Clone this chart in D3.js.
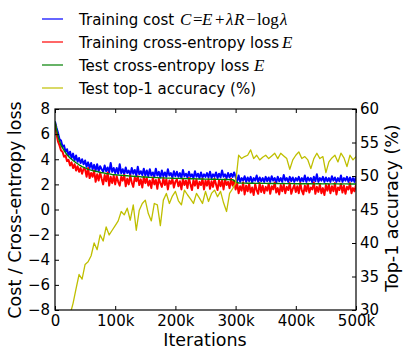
<!DOCTYPE html>
<html>
<head>
<meta charset="utf-8">
<script src="https://cdn.jsdelivr.net/npm/d3@7"></script>
<style>
  body { margin: 0; background: #fff; }
  text { font-family: "DejaVu Sans", sans-serif; }
</style>
</head>
<body>
<svg id="chart" width="407" height="358"></svg>
<script>
// sampling of the logged series
const trainStep = 2500;
const testStep = 5000;

// training cost C = E + lambda*R - log(lambda), every 2.5k iterations
const costTrain = [
  7.0, 6.5, 6.1, 5.6, 5.5, 5.0, 5.1, 4.6, 4.8, 4.3, 4.6, 4.1, 4.45, 3.9, 4.3, 3.8, 4.1, 3.7, 4.0, 3.6,
  3.9, 3.4, 3.75, 3.3, 3.7, 3.2, 3.55, 3.1, 3.6, 3.05, 3.45, 3.2, 3.0, 3.5, 3.05, 3.35, 2.95, 3.7, 3.0, 3.3, 2.9,
  3.3, 2.85, 3.6, 2.9, 3.2, 2.8, 3.35, 2.9, 3.1, 2.75, 3.3, 2.85, 3.15, 2.7, 3.4, 2.8, 3.05, 2.75, 3.25, 2.7,
  3.1, 2.65, 3.2, 2.7, 2.95, 2.6, 3.25, 2.7, 3.0, 2.55, 3.1, 2.65, 2.95, 2.6, 3.2, 2.7, 2.9, 2.55, 3.05, 2.65,
  3.0, 2.6, 2.9, 2.5, 3.15, 2.65, 2.85, 2.55, 3.0, 2.6, 2.8, 2.5, 3.05, 2.6, 2.85, 2.5, 2.95, 2.55, 2.8, 2.6,
  2.9, 2.55, 3.0, 2.5, 2.8, 2.6, 2.95, 2.5, 2.85, 2.55, 3.1, 2.6, 2.8, 2.5, 2.9, 2.55, 2.85, 2.6, 2.95,
  2.6, 2.25, 2.7, 2.2, 2.5, 2.3, 2.65, 2.2, 2.55, 2.25, 2.6, 2.15, 2.5, 2.3, 2.7, 2.2, 2.55, 2.25, 2.5, 2.2, 2.6,
  2.25, 2.55, 2.2, 2.65, 2.3, 2.5, 2.15, 2.6, 2.25, 2.5, 2.2, 2.75, 2.3, 2.5, 2.2, 2.6, 2.25, 2.55, 2.2, 2.5,
  2.3, 2.6, 2.2, 2.5, 2.25, 2.7, 2.2, 2.55, 2.3, 2.5, 2.15, 2.6, 2.25, 2.8, 2.2, 2.5, 2.3, 2.6, 2.2, 2.55,
  2.25, 2.5, 2.2, 2.65, 2.3, 2.55, 2.2, 2.5, 2.25, 2.7, 2.2, 2.5, 2.3, 2.6, 2.2, 2.55, 2.25, 2.5, 2.2, 2.6
];

// training cross-entropy loss E, every 2.5k iterations
const ceTrain = [
  6.9, 6.0, 5.4, 5.1, 4.7, 4.6, 4.2, 4.3, 3.85, 3.95, 3.5, 3.75, 3.3, 3.6, 3.1, 3.45, 3.0, 3.3, 2.85, 3.25,
  3.2, 2.6, 3.3, 2.5, 2.9, 2.6, 3.1, 2.2, 2.8, 2.3, 2.95, 2.45, 2.0, 2.75, 2.25, 2.95, 1.9, 2.6, 2.1, 2.7, 2.0,
  2.65, 2.2, 1.9, 2.6, 2.3, 2.75, 1.85, 2.45, 2.0, 2.7, 2.15, 1.8, 2.55, 2.25, 2.65, 1.95, 2.4, 1.75, 2.6, 2.1,
  2.5, 1.9, 2.3, 1.7, 2.55, 2.0, 2.35, 1.65, 2.45, 2.1, 1.8, 2.5, 1.95, 2.4, 1.6, 2.3, 2.05, 2.45, 1.75, 2.2,
  2.4, 1.85, 2.25, 1.6, 2.45, 1.95, 2.3, 1.7, 2.5, 2.0, 1.55, 2.35, 1.9, 2.4, 1.7, 2.2, 1.95, 2.45, 1.6, 2.3,
  1.9, 2.4, 1.65, 2.25, 1.8, 2.45, 2.0, 1.55, 2.35, 1.85, 2.3, 1.6, 2.4, 1.95, 2.2, 1.7, 2.45, 1.9, 2.3,
  1.6, 2.1, 1.3, 1.85, 1.5, 2.15, 1.2, 1.9, 1.45, 2.05, 1.35, 1.75, 1.15, 2.0, 1.55, 1.25, 2.1, 1.4, 1.9, 1.3, 1.8,
  1.5, 2.05, 1.25, 1.85, 1.6, 2.15, 1.35, 1.7, 1.2, 1.95, 1.45, 2.0, 1.3, 1.8, 1.55, 2.1, 1.25, 1.65, 1.95, 1.4,
  1.85, 1.3, 2.1, 1.5, 1.2, 1.9, 1.45, 2.05, 1.35, 1.75, 1.6, 2.15, 1.25, 1.8, 1.4, 2.0, 1.3, 1.7, 1.15, 1.95,
  1.5, 2.0, 1.3, 1.85, 1.45, 2.1, 1.2, 1.75, 1.55, 2.05, 1.35, 1.9, 1.25, 1.8, 1.6, 2.1, 1.3, 1.7, 1.45, 1.95
];

// test cross-entropy loss E, every 5k iterations
const ceTest = [
  7.0, 5.8, 5.1, 4.7, 4.35, 4.1, 3.9, 3.72, 3.56, 3.42, 3.31, 3.2, 3.13, 3.06, 3.01, 2.95, 2.92, 2.87, 2.84, 2.79, 2.77,
  2.74, 2.73, 2.7, 2.69, 2.66, 2.65, 2.63, 2.62, 2.59, 2.59, 2.57, 2.56, 2.54, 2.54, 2.52, 2.52, 2.5, 2.5, 2.49, 2.48,
  2.48, 2.47, 2.48, 2.46, 2.45, 2.46, 2.44, 2.43, 2.44, 2.42, 2.42, 2.41, 2.42, 2.4, 2.4, 2.39, 2.4, 2.38, 2.38, 2.2,
  2.11, 2.1, 2.1, 2.09, 2.1, 2.09, 2.08, 2.09, 2.08, 2.08, 2.07, 2.08, 2.07, 2.07, 2.06, 2.07, 2.06, 2.06, 2.06, 2.05,
  2.06, 2.05, 2.05, 2.06, 2.05, 2.04, 2.05, 2.05, 2.04, 2.05, 2.04, 2.04, 2.05, 2.04, 2.03, 2.04, 2.04, 2.03, 2.04, 2.03
];

// test top-1 accuracy (%), every 5k iterations
const top1Test = [
  0.1, 8.0, 15.5, 21.0, 25.5, 29.3, 31.0, 33.2, 35.3, 34.6, 36.8, 37.2, 38.1, 40.0, 39.0, 41.2, 40.3, 42.4, 41.2, 41.9,
  42.6, 43.3, 44.7, 44.2, 45.2, 43.4, 45.7, 41.9, 44.9, 45.9, 46.4, 44.4, 43.3, 45.9, 45.7, 42.6, 46.4, 47.4, 45.9, 47.0,
  47.7, 46.3, 45.7, 47.9, 47.2, 46.6, 45.9, 47.4, 46.7, 45.9, 47.7, 46.2, 47.4, 47.9, 46.9, 47.7, 46.0, 44.7, 47.4, 48.1,
  48.9, 53.1, 52.6, 52.9, 53.1, 53.9, 52.6, 53.1, 52.4, 52.8, 53.1, 52.6, 53.0, 53.4, 52.6, 53.4, 53.0, 52.6, 51.0, 52.4,
  53.1, 53.6, 52.6, 52.9, 52.4, 51.1, 52.6, 53.4, 52.6, 52.9, 50.5, 52.1, 52.7, 53.1, 52.1, 53.4, 52.7, 51.4, 53.1, 52.4,
  52.9
];

const iterTicks = [0, 100000, 200000, 300000, 400000, 500000];
const lossTicks = [-8, -6, -4, -2, 0, 2, 4, 6, 8];
const accTicks = [30, 35, 40, 45, 50, 55, 60];

const svg = d3.select('#chart');
const m = { left: 55, top: 109, right: 356, bottom: 310 };

const x = d3.scaleLinear().domain([0, 500000]).range([m.left, m.right]);
const yLoss = d3.scaleLinear().domain([-8, 8]).range([m.bottom, m.top]);
const yAcc = d3.scaleLinear().domain([30, 60]).range([m.bottom, m.top]);

svg.append('clipPath').attr('id', 'plot')
  .append('rect')
  .attr('x', m.left).attr('y', m.top)
  .attr('width', m.right - m.left).attr('height', m.bottom - m.top);

/* turn a value list into [iteration, value] pairs */
function series(values, step) {
  return values.map((v, i) => [i * step, v]);
}

function drawLine(values, step, yScale, colour, width) {
  const line = d3.line()
    .x((d) => x(d[0]))
    .y((d) => yScale(d[1]));
  svg.append('path')
    .datum(series(values, step))
    .attr('clip-path', 'url(#plot)')
    .attr('fill', 'none')
    .attr('stroke', colour)
    .attr('stroke-width', width)
    .attr('stroke-linejoin', 'round')
    .attr('d', line);
}

drawLine(costTrain, trainStep, yLoss, '#0000ff', 2);
drawLine(ceTrain, trainStep, yLoss, '#ff0000', 2);
drawLine(ceTest, testStep, yLoss, '#008000', 1.4);
drawLine(top1Test, testStep, yAcc, '#bfbf00', 1.3);

// frame
svg.append('rect')
  .attr('x', m.left).attr('y', m.top)
  .attr('width', m.right - m.left).attr('height', m.bottom - m.top)
  .attr('fill', 'none').attr('stroke', '#000').attr('stroke-width', 1.2);

const fmtK = (d) => (d === 0 ? '0' : d / 1000 + 'k');

function styleAxis(g) {
  g.select('.domain').remove();
  g.attr('font-family', '"DejaVu Sans", sans-serif').attr('font-size', 15);
  g.selectAll('text').attr('fill', '#000');
  g.selectAll('line').attr('stroke', '#000');
}

svg.append('g')
  .attr('transform', `translate(0,${m.bottom})`)
  .call(d3.axisBottom(x).tickValues(iterTicks).tickFormat(fmtK)
    .tickSizeInner(-4).tickSizeOuter(0).tickPadding(5))
  .call(styleAxis);

svg.append('g')
  .attr('transform', `translate(0,${m.top})`)
  .call(d3.axisTop(x).tickValues(iterTicks).tickFormat('')
    .tickSizeInner(-4).tickSizeOuter(0))
  .call(styleAxis);

svg.append('g')
  .attr('transform', `translate(${m.left},0)`)
  .call(d3.axisLeft(yLoss).tickValues(lossTicks)
    .tickSizeInner(-4).tickSizeOuter(0).tickPadding(5))
  .call(styleAxis);

svg.append('g')
  .attr('transform', `translate(${m.right},0)`)
  .call(d3.axisRight(yAcc).tickValues(accTicks)
    .tickSizeInner(-4).tickSizeOuter(0).tickPadding(4))
  .call(styleAxis);

// axis titles
svg.append('text')
  .attr('x', 205).attr('y', 346)
  .attr('text-anchor', 'middle').attr('font-size', 17.5)
  .text('Iterations');

svg.append('text')
  .attr('transform', 'translate(21,210) rotate(-90)')
  .attr('text-anchor', 'middle').attr('font-size', 17.5)
  .text('Cost / Cross-entropy loss');

svg.append('text')
  .attr('transform', 'translate(398,208) rotate(-90)')
  .attr('text-anchor', 'middle').attr('font-size', 17.5)
  .text('Top-1 accuracy (%)');

// legend: text parts are [string, kind, x] where kind is plain / math italic / math upright
const legendColours = ['#0000ff', '#ff0000', '#008000', '#bfbf00'];
const legendParts = [
  [['Training cost', 'p', 79], ['C', 'i', 180], ['=', 'm', 193], ['E', 'i', 202], ['+', 'm', 215],
   ['λ', 'i', 226], ['R', 'i', 234], ['−', 'm', 246], ['log', 'm', 257], ['λ', 'i', 280]],
  [['Training cross-entropy loss', 'p', 79], ['E', 'i', 282]],
  [['Test cross-entropy loss', 'p', 79], ['E', 'i', 254]],
  [['Test top-1 accuracy (%)', 'p', 79]]
];
const legendY = [19, 42, 65, 88];

const legend = svg.append('g');
legendParts.forEach((parts, i) => {
  legend.append('line')
    .attr('x1', 42).attr('x2', 63)
    .attr('y1', legendY[i]).attr('y2', legendY[i])
    .attr('stroke', legendColours[i]).attr('stroke-width', 1.2);
  const t = legend.append('text')
    .attr('y', legendY[i] + 6)
    .attr('font-size', 15);
  parts.forEach(([s, kind, px]) => {
    const span = t.append('tspan').attr('x', px).text(s);
    if (kind !== 'p') {
      span.attr('font-family', '"Liberation Serif", serif').attr('font-size', 17);
      if (kind === 'i') span.attr('font-style', 'italic');
    }
  });
});
</script>
</body>
</html>
